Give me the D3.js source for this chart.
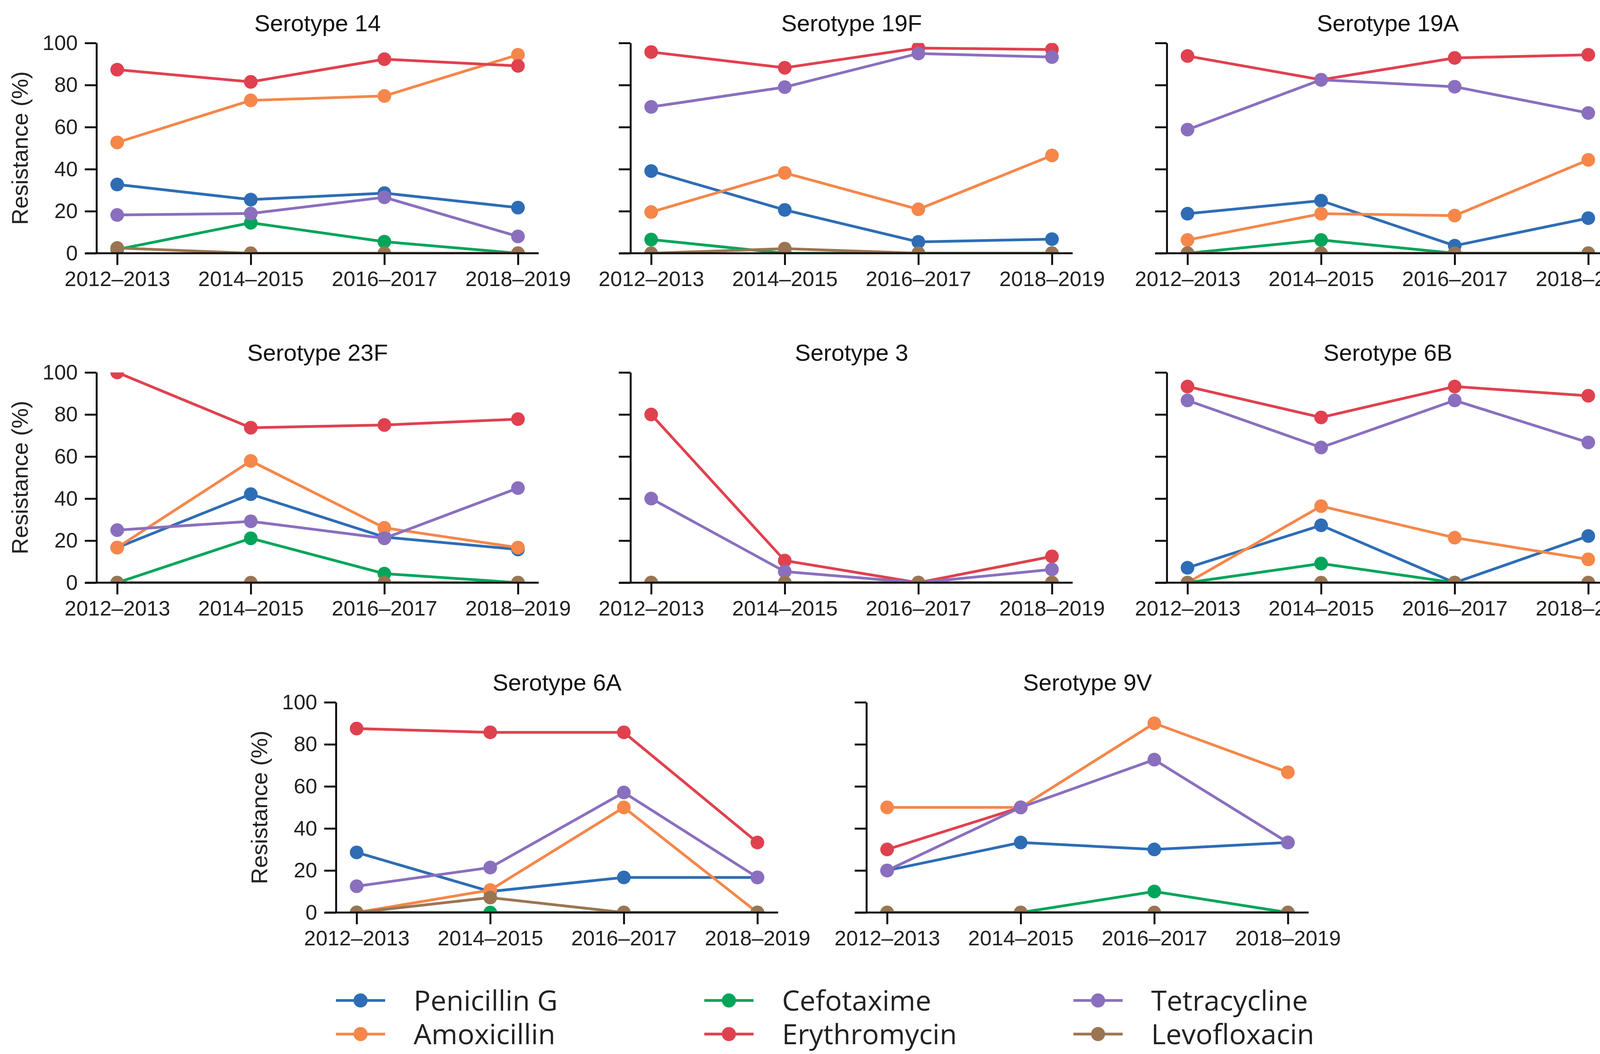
<!DOCTYPE html>
<html lang="en">
<head>
<meta charset="utf-8">
<title>Resistance by serotype</title>
<style>
  body { margin: 0; background: #fff; }
  svg { display: block; }
</style>
</head>
<body>
<script src="https://cdn.jsdelivr.net/npm/d3@7"></script>
<script>

// ---- data ----
var periods = ["2012\u20132013", "2014\u20132015", "2016\u20132017", "2018\u20132019"];
var serotypes = ["Serotype 14", "Serotype 19F", "Serotype 19A", "Serotype 23F",
                 "Serotype 3", "Serotype 6B", "Serotype 6A", "Serotype 9V"];
var antibiotics = ["Penicillin G", "Amoxicillin", "Cefotaxime", "Erythromycin", "Tetracycline", "Levofloxacin"];
var yTicks = [0, 20, 40, 60, 80, 100];

// one row per serotype, same order as serotypes
var penicillinG = [
  [32.7, 25.5, 28.6, 21.7],
  [39.1, 20.6, 5.4, 6.7],
  [18.8, 25.0, 3.6, 16.7],
  [16.7, 42.1, 21.7, 15.8],
  [0, 0, 0, 0],
  [7.1, 27.3, 0, 22.2],
  [28.6, 10.0, 16.7, 16.7],
  [20.0, 33.3, 30.0, 33.3]
];
var amoxicillin = [
  [52.7, 72.7, 74.8, 94.4],
  [19.6, 38.2, 20.9, 46.5],
  [6.3, 18.8, 17.9, 44.4],
  [16.7, 57.9, 26.1, 16.7],
  [0, 0, 0, 0],
  [0, 36.4, 21.4, 11.1],
  [0, 10.7, 50.0, 0],
  [50.0, 50.0, 90.0, 66.7]
];
var cefotaxime = [
  [1.8, 14.5, 5.5, 0],
  [6.5, 0, 0, 0],
  [0, 6.3, 0, 0],
  [0, 21.1, 4.3, 0],
  [0, 0, 0, 0],
  [0, 9.1, 0, 0],
  [0, 0, 0, 0],
  [0, 0, 10.0, 0]
];
var erythromycin = [
  [87.3, 81.5, 92.3, 89.1],
  [95.7, 88.2, 97.6, 96.9],
  [93.8, 82.5, 92.9, 94.4],
  [100, 73.7, 75.0, 77.8],
  [80.0, 10.5, 0, 12.5],
  [93.3, 78.6, 93.3, 88.9],
  [87.5, 85.7, 85.7, 33.3],
  [30.0, 50.0, null, null]
];
var tetracycline = [
  [18.2, 18.9, 26.6, 8.0],
  [69.6, 79.0, 95.0, 93.3],
  [58.8, 82.5, 79.2, 66.7],
  [25.0, 29.2, 21.1, 45.0],
  [40.0, 5.3, 0, 6.3],
  [86.7, 64.3, 86.7, 66.7],
  [12.5, 21.4, 57.1, 16.7],
  [20.0, 50.0, 72.7, 33.3]
];
var levofloxacin = [
  [2.5, 0, 0, 0],
  [0, 2.2, 0, 0],
  [0, 0, 0, 0],
  [0, 0, 0, 0],
  [0, 0, 0, 0],
  [0, 0, 0, 0],
  [0, 7.1, 0, 0],
  [0, 0, 0, 0]
];

var seriesValues = [penicillinG, amoxicillin, cefotaxime, erythromycin, tetracycline, levofloxacin];
var colors = ["#2e6db5", "#f5874a", "#00a55a", "#e0414f", "#8a6fbe", "#9b7552"];

// ---- layout ----
var width = 4216, height = 2697;
var plotW = 1132, plotH = 538;
var panelPos = [
  [247, 110], [1614, 110], [2987, 110],
  [247, 953], [1614, 953], [2987, 953],
  [860, 1797], [2218, 1797]
];
var withYLabels = [true, false, false, true, false, false, true, false];

var axisFont = "'Liberation Sans', Arial, sans-serif";
var legendFont = "'Open Sans', 'Noto Sans', sans-serif";

var svg = d3.select("body").append("svg")
  .attr("width", width).attr("height", height);

svg.append("rect").attr("width", width).attr("height", height).attr("fill", "#fff");

var x = d3.scalePoint().domain(periods).range([0, plotW]).padding(0.155);
var y = d3.scaleLinear().domain([0, 100]).range([plotH, 0]);

var line = d3.line()
  .defined(function (d) { return d.v !== null; })
  .x(function (d) { return x(d.p); })
  .y(function (d) { return y(d.v); });

serotypes.forEach(function (name, i) {
  var g = svg.append("g")
    .attr("transform", "translate(" + panelPos[i][0] + "," + panelPos[i][1] + ")");

  g.append("clipPath").attr("id", "clip" + i)
    .append("rect").attr("x", 0).attr("y", 0).attr("width", plotW).attr("height", plotH);

  var data = g.append("g").attr("clip-path", "url(#clip" + i + ")");

  // each drug: line then its markers, in legend column order
  seriesValues.forEach(function (arr, s) {
    var pts = arr[i].map(function (v, k) { return { p: periods[k], v: v }; });
    data.append("path")
      .attr("d", line(pts))
      .attr("fill", "none")
      .attr("stroke", colors[s])
      .attr("stroke-width", 7)
      .attr("stroke-linejoin", "round");
    data.selectAll(null)
      .data(pts.filter(function (d) { return d.v !== null; }))
      .enter().append("circle")
      .attr("cx", function (d) { return x(d.p); })
      .attr("cy", function (d) { return y(d.v); })
      .attr("r", 17.5)
      .attr("fill", colors[s]);
  });

  // axes
  var xAxis = d3.axisBottom(x).tickSizeOuter(0).tickSizeInner(30).tickPadding(16);
  var yAxis = d3.axisLeft(y).tickValues(yTicks).tickSizeOuter(0).tickSizeInner(30).tickPadding(18);
  if (!withYLabels[i]) yAxis.tickFormat("");

  var gx = g.append("g").attr("transform", "translate(0," + plotH + ")").call(xAxis);
  var gy = g.append("g").call(yAxis);

  [gx, gy].forEach(function (ax) {
    ax.selectAll("path, line").attr("stroke", "#111").attr("stroke-width", 5);
    ax.selectAll("text").attr("fill", "#222")
      .style("font-family", axisFont).style("font-size", "54px");
  });
  gx.select("path").attr("d", "M-28,0H" + plotW);

  g.append("text")
    .attr("x", plotW / 2).attr("y", -30)
    .attr("text-anchor", "middle")
    .attr("fill", "#111")
    .style("font-family", axisFont).style("font-size", "60px")
    .text(name);

  if (withYLabels[i]) {
    g.append("text")
      .attr("transform", "translate(-176," + (plotH / 2) + ") rotate(-90)")
      .attr("text-anchor", "middle")
      .attr("fill", "#222")
      .style("font-family", axisFont).style("font-size", "58px")
      .text("Resistance (%)");
  }
});

// ---- legend (3 columns, 2 rows) ----
var legendCols = [860, 1803, 2748];
var legendRows = [2560, 2646];
antibiotics.forEach(function (name, s) {
  var lx = legendCols[Math.floor(s / 2)];
  var ly = legendRows[s % 2];
  var lg = svg.append("g").attr("transform", "translate(" + lx + "," + ly + ")");
  lg.append("line").attr("x1", 0).attr("x2", 126).attr("y1", 0).attr("y2", 0)
    .attr("stroke", colors[s]).attr("stroke-width", 7);
  lg.append("circle").attr("cx", 63).attr("cy", 0).attr("r", 18).attr("fill", colors[s]);
  lg.append("text").attr("x", 199).attr("y", 0).attr("dy", "0.36em")
    .attr("fill", "#222")
    .style("font-family", legendFont).style("font-size", "72px")
    .text(name);
});

</script>
</body>
</html>
